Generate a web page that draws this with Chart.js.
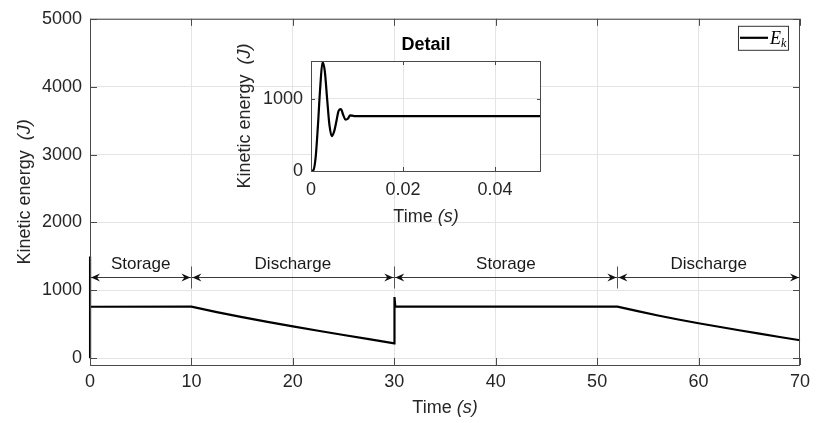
<!DOCTYPE html>
<html>
<head>
<meta charset="utf-8">
<script src="https://cdn.jsdelivr.net/npm/chart.js@4.4.1/dist/chart.umd.min.js"></script>
<style>
  html, body { margin: 0; padding: 0; background: #fff; }
  #wrap { position: relative; width: 816px; height: 423px; }
  #mainChart { position: absolute; left: 0; top: 0; }
  #detailChart { position: absolute; left: 200px; top: 20px; }
</style>
</head>
<body>
<div id="wrap">
  <canvas id="mainChart" width="816" height="423"></canvas>
  <canvas id="detailChart" width="360" height="215"></canvas>
</div>
<script>
// main trace: kinetic energy over the full run (s, J)
const timeS = [0, 0.0025, 0.0045, 0.0065, 0.0075, 0.01,
  10, 12.5, 15, 17.5, 20, 22.5, 25, 27.5, 30,
  30.02, 30.1,
  52, 54, 56, 58, 60, 62, 64, 66, 68, 70];
const energyJ = [0, 1500, 480, 850, 710, 758,
  760, 680, 605, 535, 470, 405, 342, 280, 220,
  900, 760,
  760, 693, 629, 570, 515, 463, 412, 362, 313, 265];
const xTicks = [0, 10, 20, 30, 40, 50, 60, 70];
const yTicks = [0, 1000, 2000, 3000, 4000, 5000];

// inset: first 50 ms
const detailTime = [0, 0.0005, 0.001, 0.0015, 0.002, 0.0025, 0.003, 0.0035, 0.004, 0.0045,
  0.005, 0.0055, 0.006, 0.0065, 0.007, 0.0075, 0.008, 0.0085, 0.009, 0.0095, 0.01, 0.05];
const detailEnergy = [0, 10, 180, 620, 1150, 1505, 1380, 1000, 640, 482,
  540, 680, 830, 855, 775, 711, 722, 768, 766, 757, 758, 758];
const detailXTicks = [0, 0.02, 0.04];
const detailYTicks = [0, 1000];

// storage / discharge phases
const phaseBounds = [0, 10, 30, 52, 70];
const phaseNames = ["Storage", "Discharge", "Storage", "Discharge"];
const arrowLevel = 1200;

const axisColor = "#4a4a4a";
const textColor = "#262626";
const gridColor = "#e4e4e4";
const fontFamily = "'Liberation Sans', Arial, sans-serif";

function toPoints(xs, ys) {
  return xs.map((v, i) => ({ x: v, y: ys[i] }));
}

// draws a run of text pieces with different fonts, centred on (cx, cy)
function drawMixed(ctx, parts, cx, cy, rotate) {
  ctx.save();
  ctx.translate(cx, cy);
  if (rotate) ctx.rotate(-Math.PI / 2);
  let total = 0;
  parts.forEach(p => { ctx.font = p.font; total += ctx.measureText(p.text).width; });
  let pos = -total / 2;
  ctx.textBaseline = "middle";
  ctx.textAlign = "left";
  ctx.fillStyle = textColor;
  parts.forEach(p => {
    ctx.font = p.font;
    ctx.fillText(p.text, pos, 0);
    pos += ctx.measureText(p.text).width;
  });
  ctx.restore();
}

function drawBoxAndTicks(chart, tickLen) {
  const { ctx, chartArea: a, scales } = chart;
  ctx.save();
  ctx.strokeStyle = axisColor;
  ctx.lineWidth = 1;
  ctx.strokeRect(a.left + 0.5, a.top + 0.5, a.right - a.left - 1, a.bottom - a.top);
  ctx.beginPath();
  scales.x.ticks.forEach(t => {
    const px = Math.round(scales.x.getPixelForValue(t.value)) + 0.5;
    ctx.moveTo(px, a.bottom); ctx.lineTo(px, a.bottom - tickLen);
    ctx.moveTo(px, a.top); ctx.lineTo(px, a.top + tickLen);
  });
  scales.y.ticks.forEach(t => {
    const py = Math.round(scales.y.getPixelForValue(t.value)) + 0.5;
    ctx.moveTo(a.left, py); ctx.lineTo(a.left + tickLen, py);
    ctx.moveTo(a.right, py); ctx.lineTo(a.right - tickLen, py);
  });
  ctx.stroke();
  ctx.restore();
}

function arrowHead(ctx, tipX, tipY, dir) {
  const len = 9, half = 4, notch = 3;
  ctx.beginPath();
  ctx.moveTo(tipX, tipY);
  ctx.lineTo(tipX - dir * len, tipY - half);
  ctx.lineTo(tipX - dir * (len - notch), tipY);
  ctx.lineTo(tipX - dir * len, tipY + half);
  ctx.closePath();
  ctx.fill();
}

const mainDecor = {
  id: "mainDecor",
  afterDraw(chart) {
    const { ctx, chartArea: a, scales: { x, y } } = chart;
    drawBoxAndTicks(chart, 7);

    // phase arrows and labels
    ctx.save();
    const ya = Math.round(y.getPixelForValue(arrowLevel)) + 0.5;
    ctx.strokeStyle = "#3a3a3a";
    ctx.fillStyle = "#111";
    ctx.lineWidth = 1;
    for (let i = 0; i < phaseNames.length; i++) {
      const x1 = x.getPixelForValue(phaseBounds[i]);
      const x2 = x.getPixelForValue(phaseBounds[i + 1]);
      ctx.beginPath();
      ctx.moveTo(x1, ya); ctx.lineTo(x2, ya);
      ctx.stroke();
      arrowHead(ctx, x1 + 1, ya, -1);
      arrowHead(ctx, x2 - 1, ya, 1);
      ctx.font = "17px " + fontFamily;
      ctx.textAlign = "center";
      ctx.textBaseline = "middle";
      ctx.fillStyle = "#1a1a1a";
      ctx.fillText(phaseNames[i], (x1 + x2) / 2, ya - 13);
      ctx.fillStyle = "#111";
    }
    ctx.strokeStyle = "#555";
    ctx.beginPath();
    phaseBounds.slice(1, -1).forEach(b => {
      const px = Math.round(x.getPixelForValue(b)) + 0.5;
      ctx.moveTo(px, ya - 11); ctx.lineTo(px, ya + 11);
    });
    ctx.stroke();

    // legend
    const lx = a.right - 62, ly = a.top + 7, lw = 50, lh = 24;
    ctx.fillStyle = "#fff";
    ctx.fillRect(lx, ly, lw, lh);
    ctx.strokeStyle = "#333";
    ctx.strokeRect(lx + 0.5, ly + 0.5, lw, lh);
    ctx.strokeStyle = "#000";
    ctx.lineWidth = 2.2;
    ctx.beginPath();
    ctx.moveTo(lx + 2, ly + lh / 2); ctx.lineTo(lx + 30, ly + lh / 2);
    ctx.stroke();
    ctx.fillStyle = "#000";
    ctx.textAlign = "left";
    ctx.textBaseline = "alphabetic";
    ctx.font = "italic 18px 'Liberation Serif', 'DejaVu Serif', serif";
    ctx.fillText("E", lx + 32, ly + lh / 2 + 6);
    const ew = ctx.measureText("E").width;
    ctx.font = "italic 12px 'Liberation Serif', 'DejaVu Serif', serif";
    ctx.fillText("k", lx + 32 + ew, ly + lh / 2 + 9);
    ctx.restore();

    // axis titles
    drawMixed(ctx, [
      { text: "Time ", font: "18px " + fontFamily },
      { text: "(s)", font: "italic 18px " + fontFamily }
    ], (a.left + a.right) / 2, 408, false);
    drawMixed(ctx, [
      { text: "Kinetic energy  ", font: "18px " + fontFamily },
      { text: "(J)", font: "italic 18px " + fontFamily }
    ], 25, (a.top + a.bottom) / 2, true);
  }
};

const detailDecor = {
  id: "detailDecor",
  beforeDraw(chart) {
    const { ctx, chartArea: a } = chart;
    ctx.save();
    ctx.fillStyle = "#fff";
    ctx.fillRect(a.left, a.top, a.right - a.left, a.bottom - a.top);
    ctx.restore();
  },
  afterDraw(chart) {
    const { ctx, chartArea: a } = chart;
    drawBoxAndTicks(chart, 4);
    ctx.save();
    ctx.font = "bold 18px " + fontFamily;
    ctx.fillStyle = "#000";
    ctx.textAlign = "center";
    ctx.textBaseline = "middle";
    ctx.fillText("Detail", (a.left + a.right) / 2, 25);
    ctx.restore();
    drawMixed(ctx, [
      { text: "Time ", font: "18px " + fontFamily },
      { text: "(s)", font: "italic 18px " + fontFamily }
    ], (a.left + a.right) / 2, 197, false);
    drawMixed(ctx, [
      { text: "Kinetic energy  ", font: "18px " + fontFamily },
      { text: "(J)", font: "italic 18px " + fontFamily }
    ], 45, (a.top + a.bottom) / 2, true);
  }
};

function axisOptions(min, max, ticks, fixSize, pad) {
  return {
    type: "linear",
    min: min,
    max: max,
    afterBuildTicks: s => { s.ticks = ticks.map(v => ({ value: v })); },
    afterFit: fixSize,
    border: { display: false },
    grid: { color: gridColor, drawTicks: false, lineWidth: 1 },
    ticks: {
      color: textColor,
      padding: pad,
      maxRotation: 0,
      autoSkip: false,
      font: { family: fontFamily, size: 18 },
      callback: v => String(v)
    }
  };
}

new Chart(document.getElementById("mainChart").getContext("2d"), {
  type: "line",
  data: {
    datasets: [{
      data: toPoints(timeS, energyJ),
      borderColor: "#000",
      borderWidth: 2.2,
      pointRadius: 0,
      tension: 0,
      clip: 4
    }]
  },
  options: {
    responsive: false,
    animation: false,
    layout: { padding: { top: 18, right: 13, left: 0, bottom: 0 } },
    plugins: { legend: { display: false }, tooltip: { enabled: false } },
    scales: {
      x: axisOptions(0, 70, xTicks, s => { s.height = 58; }, 6),
      y: axisOptions(-100, 5000, yTicks, s => { s.width = 90; }, 8)
    }
  },
  plugins: [mainDecor]
});

new Chart(document.getElementById("detailChart").getContext("2d"), {
  type: "line",
  data: {
    datasets: [{
      data: toPoints(detailTime, detailEnergy),
      borderColor: "#000",
      borderWidth: 2.2,
      pointRadius: 0,
      cubicInterpolationMode: "monotone"
    }]
  },
  options: {
    responsive: false,
    animation: false,
    layout: { padding: { top: 41, right: 19, left: 0, bottom: 0 } },
    plugins: { legend: { display: false }, tooltip: { enabled: false } },
    scales: {
      x: axisOptions(0, 0.05, detailXTicks, s => { s.height = 64; }, 8),
      y: axisOptions(0, 1520, detailYTicks, s => { s.width = 111; }, 8)
    }
  },
  plugins: [detailDecor]
});
</script>
</body>
</html>
